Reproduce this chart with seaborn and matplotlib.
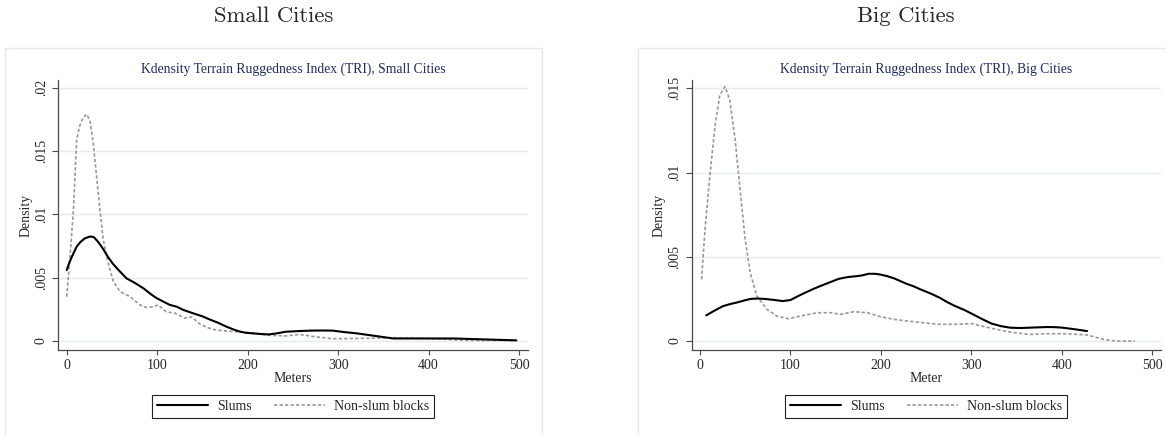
import matplotlib
matplotlib.use("Agg")
import matplotlib.pyplot as plt
from matplotlib.patches import Rectangle
from matplotlib.lines import Line2D
import seaborn as sns
import pandas as pd

# ---------------- data (density values in units of 1e-3) ----------------
small_slum_x = [0, 3, 6, 11, 15, 20, 26, 30, 35, 40, 45, 51, 56, 60, 66, 75, 85, 92, 99, 107, 114,
                122, 129, 140, 150, 158, 167, 176, 184, 191, 198, 206, 215, 223, 232, 242, 255, 270,
                282, 294, 305, 321, 341, 361, 380, 400, 428, 460, 497]
small_slum_y = [5.6, 6.2, 6.7, 7.45, 7.8, 8.1, 8.25, 8.2, 7.8, 7.3, 6.7, 6.1, 5.7, 5.4, 4.95, 4.6,
                4.15, 3.75, 3.4, 3.1, 2.85, 2.7, 2.45, 2.18, 1.95, 1.7, 1.45, 1.15, 0.92, 0.75, 0.65,
                0.6, 0.55, 0.52, 0.6, 0.73, 0.78, 0.82, 0.83, 0.82, 0.72, 0.6, 0.4, 0.2, 0.2, 0.2,
                0.2, 0.13, 0.05]

small_non_x = [0, 3.7, 7.4, 11, 14.7, 18, 22, 25.7, 29.4, 33, 36.8, 40.4, 46, 51.5, 59, 70, 81,
               88, 95, 101, 110, 119.5, 130.5, 138, 147, 156, 165, 184, 198.5, 210, 223, 242, 258,
               274, 294, 321, 361, 400, 420, 440, 497]
small_non_y = [3.5, 6.7, 10.3, 15.9, 17.05, 17.6, 17.9, 17.4, 15.6, 13.0, 10.3, 8.0, 6.1, 4.7,
               3.9, 3.5, 2.85, 2.65, 2.7, 2.85, 2.3, 2.2, 1.8, 1.9, 1.35, 1.05, 0.87, 0.74, 0.68,
               0.6, 0.45, 0.4, 0.52, 0.34, 0.18, 0.2, 0.26, 0.2, 0.13, 0.05, 0.05]

big_slum_x = [7, 16, 25.6, 34, 42, 50, 56.5, 63, 71, 80, 91.6, 100, 108, 116, 125, 133, 143,
              153.5, 164, 174, 180, 186.5, 193, 199, 207, 215, 221, 227.7, 236, 244, 255, 265,
              273, 281, 292, 302, 312, 322.6, 333, 343, 354, 364, 374, 384.5, 393, 401, 414, 428]
big_slum_y = [1.52, 1.8, 2.07, 2.2, 2.3, 2.42, 2.5, 2.52, 2.5, 2.45, 2.37, 2.43, 2.65, 2.86,
              3.08, 3.26, 3.47, 3.69, 3.8, 3.85, 3.9, 3.99, 3.99, 3.95, 3.85, 3.71, 3.57, 3.41,
              3.25, 3.06, 2.82, 2.57, 2.32, 2.1, 1.85, 1.58, 1.3, 1.03, 0.88, 0.79, 0.77, 0.79,
              0.81, 0.83, 0.82, 0.79, 0.7, 0.59]

big_non_x = [1.85, 5.6, 11, 16.7, 22, 27.8, 33, 38.9, 44.4, 50, 55.6, 63, 74, 85, 98, 111, 130,
             144.4, 155.5, 170, 185, 200, 215, 240, 265, 281, 300, 322.6, 343, 364, 384.5, 405,
             428, 446, 459, 481]
big_non_y = [3.66, 6.6, 9.8, 12.75, 14.6, 15.1, 14.3, 11.96, 9.0, 6.03, 4.05, 2.67, 1.88, 1.48,
             1.32, 1.48, 1.68, 1.68, 1.58, 1.74, 1.68, 1.44, 1.28, 1.12, 0.99, 0.99, 1.03, 0.75,
             0.53, 0.39, 0.43, 0.43, 0.36, 0.1, 0.0, 0.0]

series_labels = ["Slums", "Non-slum blocks"]
panel_titles = ["Small Cities", "Big Cities"]
inner_titles = ["Kdensity Terrain Ruggedness Index (TRI), Small Cities",
                "Kdensity Terrain Ruggedness Index (TRI), Big Cities"]
x_labels = ["Meters", "Meter"]
x_ticks = [0, 100, 200, 300, 400, 500]
small_y_ticks = [0, 0.005, 0.01, 0.015, 0.02]
small_y_ticklabels = ["0", ".005", ".01", ".015", ".02"]
big_y_ticks = [0, 0.005, 0.01, 0.015]
big_y_ticklabels = ["0", ".005", ".01", ".015"]

# ---------------- style ----------------
sns.set_style("white")
plt.rcParams["font.family"] = ["Liberation Serif", "DejaVu Serif"]

W, H = 1166, 436
fig = plt.figure(figsize=(W / 100, H / 100), dpi=100)

GRID = "#e3edef"
AXC = "#4a4a4a"
TITLEC = "#1f2d5c"
NONC = "#999999"
NONDASH = (0, (2.0, 1.3))


def make_df(xs, ys, label):
    return pd.DataFrame({"x": xs, "y": [v / 1000.0 for v in ys], "series": label})


def setup_axes(left_px, ylim, yticks, yticklabels, title, xlabel, data):
    ax = fig.add_axes([left_px / W, (H - 350) / H, 469.4 / W, 270 / H])
    slum_df, non_df = data
    sns.lineplot(data=non_df, x="x", y="y", ax=ax, color=NONC, lw=1.2,
                 linestyle=NONDASH, estimator=None, sort=False)
    sns.lineplot(data=slum_df, x="x", y="y", ax=ax, color="black", lw=1.5,
                 estimator=None, sort=False)
    ax.set_xlim(-9.3, 509.6)
    ax.set_ylim(*ylim)
    ax.set_xticks(x_ticks)
    ax.set_xticklabels([str(t) for t in x_ticks])
    ax.set_yticks(yticks)
    ax.set_yticklabels(yticklabels, rotation=90, va="center")
    for t in yticks:
        ax.axhline(t, color=GRID, lw=1.0, zorder=0)
    for s in ["top", "right"]:
        ax.spines[s].set_visible(False)
    for s in ["left", "bottom"]:
        ax.spines[s].set_color(AXC)
        ax.spines[s].set_linewidth(0.9)
    ax.tick_params(axis="x", direction="out", length=3.3, width=0.8, color=AXC,
                   labelsize=10, pad=3, bottom=True)
    ax.tick_params(axis="y", direction="out", length=4.5, width=0.8, color=AXC,
                   labelsize=10, pad=3, left=True)
    ax.set_xlabel(xlabel, fontsize=10, labelpad=0.5)
    ax.set_ylabel("Density", fontsize=10, labelpad=1.5)
    ax.set_title(title, fontsize=9.8, color=TITLEC, pad=5)
    ax.patch.set_alpha(0)
    return ax


ax1 = setup_axes(58.3, (-0.00071, 0.0206), small_y_ticks, small_y_ticklabels,
                 inner_titles[0], x_labels[0],
                 (make_df(small_slum_x, small_slum_y, series_labels[0]),
                  make_df(small_non_x, small_non_y, series_labels[1])))
ax2 = setup_axes(691.5, (-0.000534, 0.01549), big_y_ticks, big_y_ticklabels,
                 inner_titles[1], x_labels[1],
                 (make_df(big_slum_x, big_slum_y, series_labels[0]),
                  make_df(big_non_x, big_non_y, series_labels[1])))

# panel borders
for lx in [5, 638.3]:
    fig.patches.append(Rectangle((lx / W, -0.1), 536.7 / W, (H - 47.7) / H + 0.1,
                                 transform=fig.transFigure, fill=False,
                                 edgecolor="#e4ecee", lw=1.0, zorder=0))

# panel headings
for cx, txt in [(273.3, panel_titles[0]), (906.0, panel_titles[1])]:
    fig.text(cx / W, 1 - 16.5 / H, txt, ha="center", va="center",
             fontfamily="cmr10", fontsize=16.3)

# legends
handles = [Line2D([], [], color="black", lw=1.5),
           Line2D([], [], color=NONC, lw=1.2, linestyle=NONDASH)]
for cx in [293.0, 926.2]:
    leg = fig.legend(handles, series_labels, loc="center",
                     bbox_to_anchor=(cx / W, 1 - 406.7 / H), ncol=2,
                     frameon=True, fancybox=False, framealpha=1, edgecolor="#222222",
                     fontsize=10, handlelength=3.7, handletextpad=0.65,
                     columnspacing=1.6, borderpad=0.35)
    leg.get_frame().set_linewidth(0.8)

fig.savefig("out.png", dpi=100)
